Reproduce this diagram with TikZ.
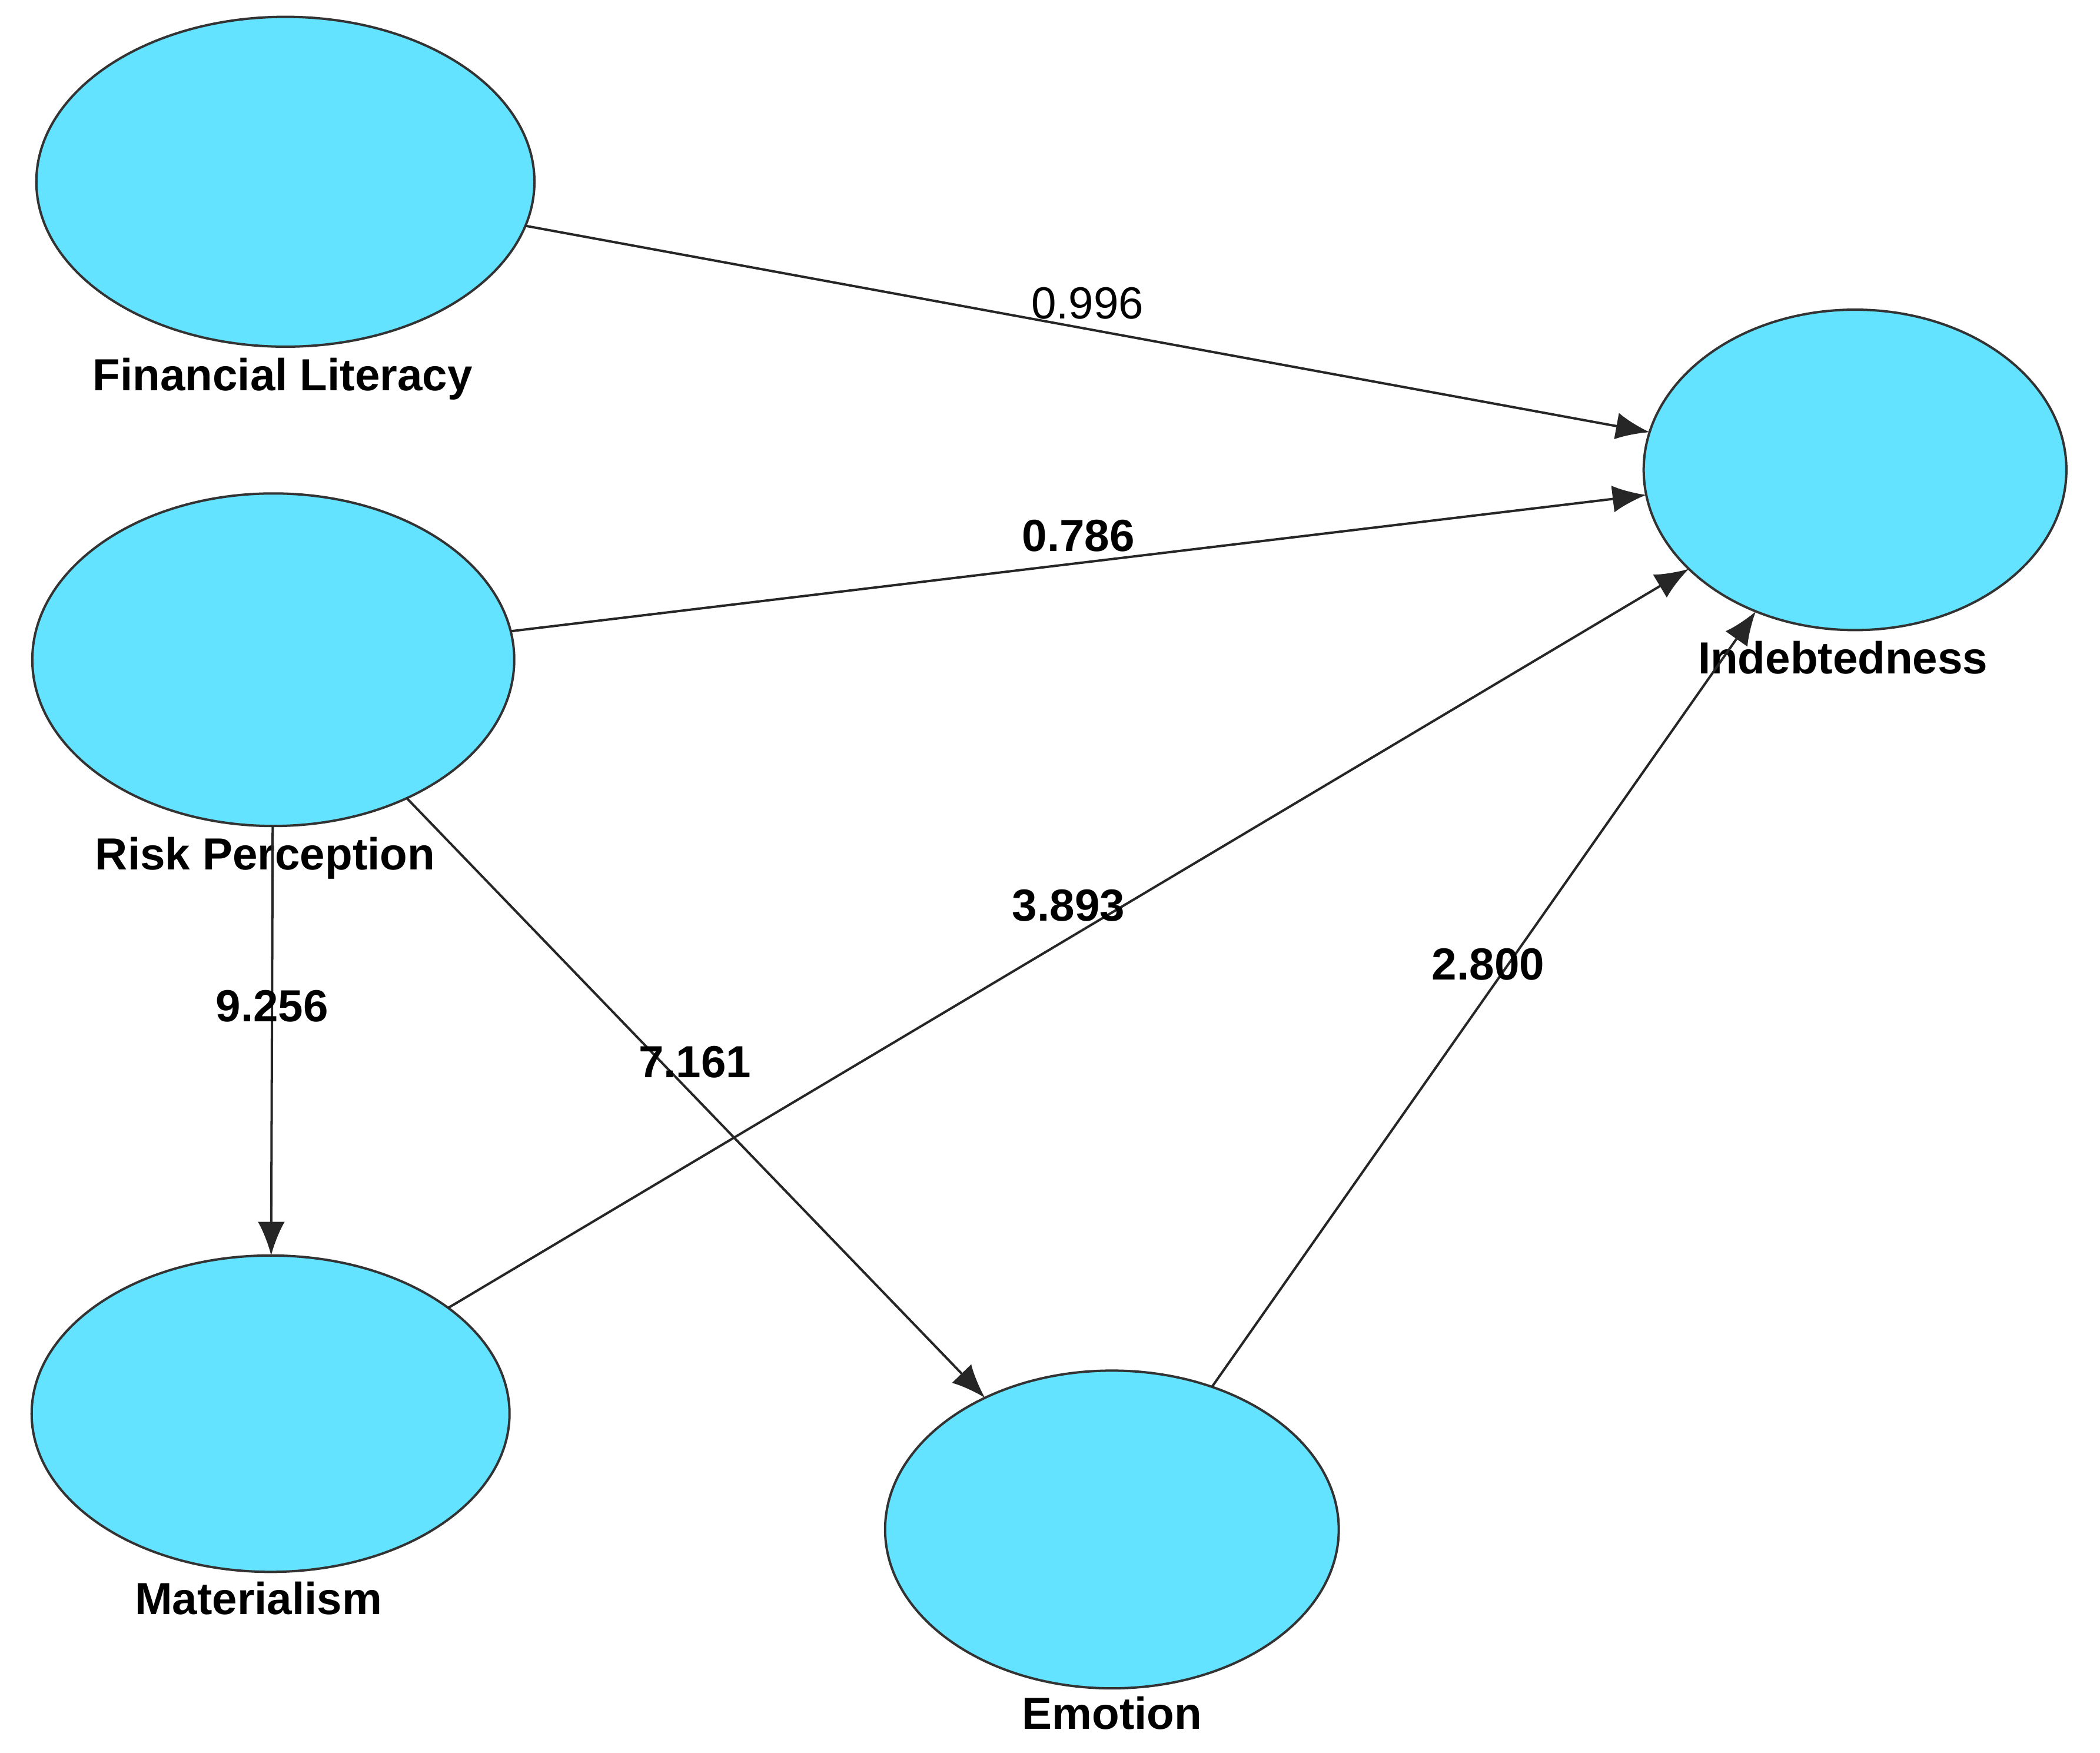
\documentclass[tikz,border=0pt]{standalone}
\usepackage{fontspec}
\setmainfont{Liberation Sans}
\usetikzlibrary{shapes,arrows.meta,positioning}
\definecolor{latent}{RGB}{99,227,255}
\tikzstyle{construct} = [ellipse, draw=black!80, fill=latent, line width=0.5pt, outer sep=0pt]
\tikzstyle{caption} = [inner sep=0pt, font=\fontsize{9.5}{11}\selectfont\bfseries, text height=1.55ex, text depth=0.45ex]
\tikzstyle{coef} = [inner sep=1pt, text=black, font=\fontsize{9.5}{11}\selectfont\bfseries]
\tikzstyle{line} = [draw, black!85, line width=0.5pt, -{Latex[length=2.5mm,width=2mm]}]

\begin{document}
\begin{tikzpicture}
	\useasboundingbox (0,0) rectangle (15.6,-13.02);

		\node [construct, minimum width=3.70cm, minimum height=2.45cm] (literacy) at (2.12,-1.35) {};
		\node [construct, minimum width=3.58cm, minimum height=2.47cm] (risk) at (2.03,-4.90) {};
		\node [construct, minimum width=3.55cm, minimum height=2.35cm] (materialism) at (2.01,-10.50) {};
		\node [construct, minimum width=3.37cm, minimum height=2.36cm] (emotion) at (8.26,-11.36) {};
		\node [construct, minimum width=3.14cm, minimum height=2.38cm] (debt) at (13.78,-3.49) {};

		\node [caption, below=0.03cm of literacy, xshift=-0.02cm] (literacylabel) {Financial Literacy};
		\node [caption, below=0.03cm of risk, xshift=-0.06cm] (risklabel) {Risk Perception};
		\node [caption, below=0.02cm of materialism, xshift=-0.09cm] (materialismlabel) {Materialism};
		\node [caption, below=0.01cm of emotion] (emotionlabel) {Emotion};
		\node [caption, below=0.03cm of debt, xshift=-0.09cm] (debtlabel) {Indebtedness};

		\path [line] (literacy) -- node [coef, pos=0.5, above, yshift=0.03cm, font=\fontsize{9.5}{11}\selectfont] {0.996} (debt);
		\path [line] (risk) -- node [coef, pos=0.5, above, yshift=0.04cm] {0.786} (debt);
		\path [line] (materialism) -- node [coef, pos=0.5, above, yshift=0.08cm] {3.893} (debt);
		\path [line] (emotion) -- node [coef, pos=0.545, xshift=-0.15cm] {2.800} (debt);
		\path [line] (risk) -- node [coef, pos=0.42] {9.256} (materialism);
		\path [line] (risk) -- node [coef, pos=0.44, xshift=0.25cm] {7.161} (emotion);
	\end{tikzpicture}
\end{document}
